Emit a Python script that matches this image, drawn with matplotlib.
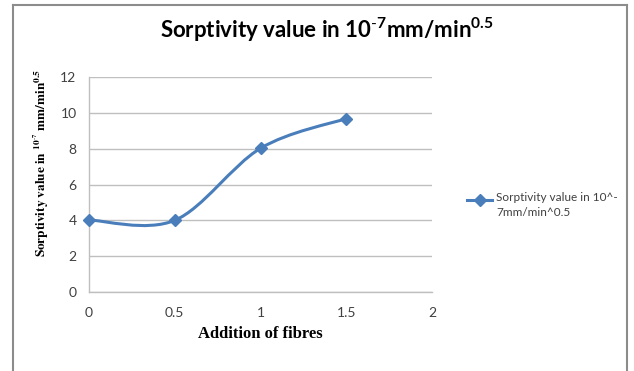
"""Sorptivity vs addition of fibres (Excel-style smoothed line)."""

import matplotlib
matplotlib.use("Agg")
import matplotlib.pyplot as plt
from matplotlib.path import Path
from matplotlib.patches import PathPatch
from matplotlib.lines import Line2D

# data
fibres = [0, 0.5, 1, 1.5]
sorptivity = [4.02, 4.0, 8.02, 9.68]
x_ticks = [0, 0.5, 1, 1.5, 2]
x_tick_labels = ["0", "0.5", "1", "1.5", "2"]
y_ticks = [0, 2, 4, 6, 8, 10, 12]

BLUE = "#4A7EBB"
GRID = "#BFBFBF"
TICK_COLOR = "#404040"

plt.rcParams["mathtext.fontset"] = "custom"
plt.rcParams["mathtext.rm"] = "Lato"
plt.rcParams["mathtext.bf"] = "Lato:bold"


def smooth_path(xs, ys):
    """Excel-like smoothing: cubic Bezier segments with Catmull-Rom control points."""
    pts = list(zip(xs, ys))
    n = len(pts)
    verts = [pts[0]]
    codes = [Path.MOVETO]
    for i in range(n - 1):
        p0 = pts[max(i - 1, 0)]
        p1 = pts[i]
        p2 = pts[i + 1]
        p3 = pts[min(i + 2, n - 1)]
        c1 = (p1[0] + (p2[0] - p0[0]) / 6, p1[1] + (p2[1] - p0[1]) / 6)
        c2 = (p2[0] - (p3[0] - p1[0]) / 6, p2[1] - (p3[1] - p1[1]) / 6)
        verts += [c1, c2, p2]
        codes += [Path.CURVE4] * 3
    return Path(verts, codes)


fig = plt.figure(figsize=(6.34, 3.71), dpi=100)
ax = fig.add_axes([89 / 634, 1 - 292 / 371, 343 / 634, 215 / 371])

ax.add_patch(PathPatch(smooth_path(fibres, sorptivity), facecolor="none",
                       edgecolor=BLUE, linewidth=2.2, capstyle="round", zorder=3))
ax.plot(fibres, sorptivity, linestyle="none", marker="D", markersize=6,
        color=BLUE, zorder=4, clip_on=False)

ax.set_xlim(0, 2)
ax.set_ylim(0, 12)
ax.set_xticks(x_ticks)
ax.set_xticklabels(x_tick_labels)
ax.set_yticks(y_ticks)
ax.yaxis.grid(True, color=GRID, linewidth=1)
ax.set_axisbelow(True)
for side in ["top", "right"]:
    ax.spines[side].set_visible(False)
for side in ["left", "bottom"]:
    ax.spines[side].set_color(GRID)
    ax.spines[side].set_linewidth(1)
ax.tick_params(length=0, labelsize=10, colors=TICK_COLOR)
ax.tick_params(axis="x", pad=11)
ax.tick_params(axis="y", pad=9)
for lbl in ax.get_xticklabels() + ax.get_yticklabels():
    lbl.set_fontfamily("Lato")

ax.set_xlabel("Addition of fibres", fontfamily="Liberation Serif",
              fontweight="bold", fontsize=12, labelpad=5)

# y label (Times-like, with small raised exponent)
fig.text(41 / 634, 1 - 163 / 371,
         r"$\mathbf{Sorptivity\ value\ in\ }{}^{\mathbf{10^{\text{-}7}}}"
         r"\mathbf{\ mm/min}^{\mathbf{0.5}}$",
         rotation=90, ha="center", va="center", fontsize=9.5,
         math_fontfamily="stix", color="black")

fig.text(327 / 634, 1 - 30 / 371,
         r"Sorptivity value in 10$^{\mathbf{\text{-}7}}$mm/min$^{\mathbf{0.5}}$",
         ha="center", va="center", fontsize=16, fontweight="bold",
         fontfamily="Lato", color="black")

# legend
leg_y = 1 - 200 / 371
fig.add_artist(Line2D([467 / 634, 492 / 634], [leg_y, leg_y], color=BLUE,
                      linewidth=2.2, transform=fig.transFigure))
fig.add_artist(Line2D([479.5 / 634], [leg_y], color=BLUE, marker="D",
                      markersize=6, transform=fig.transFigure))
fig.text(496 / 634, 1 - 205 / 371, "Sorptivity value in 10^-\n7mm/min^0.5",
         ha="left", va="center", fontsize=8.5, fontfamily="Lato",
         color=TICK_COLOR, linespacing=1.4)

# chart frame
frame_color = "#8C8C8C"
fig.add_artist(Line2D([12.5 / 634, 12.5 / 634], [0, 1 - 4.5 / 371],
                      color=frame_color, linewidth=1.5, transform=fig.transFigure))
fig.add_artist(Line2D([626.5 / 634, 626.5 / 634], [0, 1 - 4.5 / 371],
                      color=frame_color, linewidth=1.5, transform=fig.transFigure))
fig.add_artist(Line2D([12.5 / 634, 626.5 / 634], [1 - 4.5 / 371] * 2,
                      color=frame_color, linewidth=1.5, transform=fig.transFigure))

fig.savefig("out.png", dpi=100)
